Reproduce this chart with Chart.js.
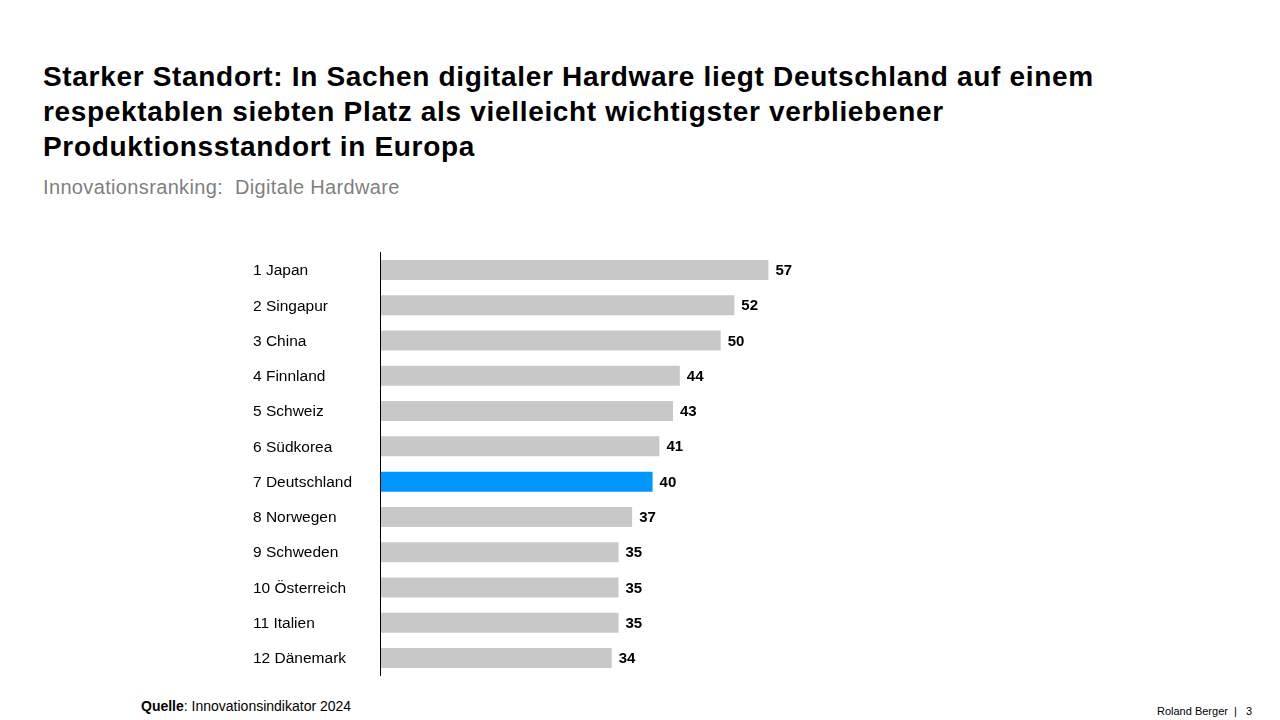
<!DOCTYPE html>
<html>
<head>
<meta charset="utf-8">
<script src="https://cdn.jsdelivr.net/npm/chart.js@4"></script>
<style>
  body { margin: 0; width: 1280px; height: 720px; background: #fff; font-family: "Liberation Sans", Arial, sans-serif; position: relative; overflow: hidden; }
  #title { position: absolute; left: 43px; top: 59px; white-space: nowrap; font-size: 28px; letter-spacing: 0.68px; font-weight: bold; line-height: 35px; color: #000; }
  #subtitle { position: absolute; left: 43px; top: 176px; font-size: 20px; letter-spacing: 0.35px; color: #7f7f7f; }
  #chartBox { position: absolute; left: 240px; top: 240px; width: 620px; height: 448px; }
  #source { position: absolute; left: 141px; top: 698px; font-size: 14px; color: #000; }
  #footer { position: absolute; left: 1157px; top: 705px; font-size: 11px; color: #000; white-space: pre; }
</style>
</head>
<body>
<div id="title">Starker Standort: In Sachen digitaler Hardware liegt Deutschland auf einem<br>respektablen siebten Platz als vielleicht wichtigster verbliebener<br>Produktionsstandort in Europa</div>
<div id="subtitle">Innovationsranking:&nbsp; Digitale Hardware</div>
<div id="chartBox"><canvas id="canvas"></canvas></div>
<div id="source"><b>Quelle</b>: Innovationsindikator 2024</div>
<div id="footer">Roland Berger  |   3</div>

<script>
const labels = ["1 Japan", "2 Singapur", "3 China", "4 Finnland", "5 Schweiz", "6 Südkorea",
    "7 Deutschland", "8 Norwegen", "9 Schweden", "10 Österreich", "11 Italien", "12 Dänemark"];
const values = [57, 52, 50, 44, 43, 41, 40, 37, 35, 35, 35, 34];
const highlight = "7 Deutschland";

const colors = labels.map(function(l){
    return l === highlight ? "#0096ff" : "#c8c8c8";
});

// Zahlen rechts neben die Balken schreiben
const valueLabels = {
    id: "valueLabels",
    afterDatasetsDraw(chart){
        const ctx = chart.ctx;
        const meta = chart.getDatasetMeta(0);
        ctx.save();
        ctx.font = "bold 15px 'Liberation Sans', Arial, sans-serif";
        ctx.fillStyle = "#000";
        ctx.textAlign = "left";
        ctx.textBaseline = "middle";
        meta.data.forEach(function(bar, i){
            ctx.fillText(values[i], bar.x + 7, bar.y + 1);
        });
        ctx.restore();
    }
};

new Chart(document.getElementById("canvas"), {
    type: "bar",
    data: {
        labels: labels,
        datasets: [{
            data: values,
            backgroundColor: colors,
            categoryPercentage: 1,
            barPercentage: 0.567
        }]
    },
    options: {
        indexAxis: "y",
        responsive: true,
        maintainAspectRatio: false,
        animation: false,
        layout: { padding: { left: 13, right: 3, top: 0, bottom: 0 } },
        plugins: { legend: { display: false }, tooltip: { enabled: false } },
        scales: {
            x: {
                display: false,
                min: 0,
                max: 70
            },
            y: {
                grid: { display: false, drawTicks: false },
                border: { display: true, color: "#000", width: 1, z: 1 },
                ticks: {
                    crossAlign: "far",
                    color: "#000",
                    labelOffset: 1,
                    font: { family: "'Liberation Sans', Arial, sans-serif", size: 15.5 }
                },
                afterFit(scale){ scale.width = 127; }
            }
        }
    },
    plugins: [valueLabels]
});
</script>
</body>
</html>
